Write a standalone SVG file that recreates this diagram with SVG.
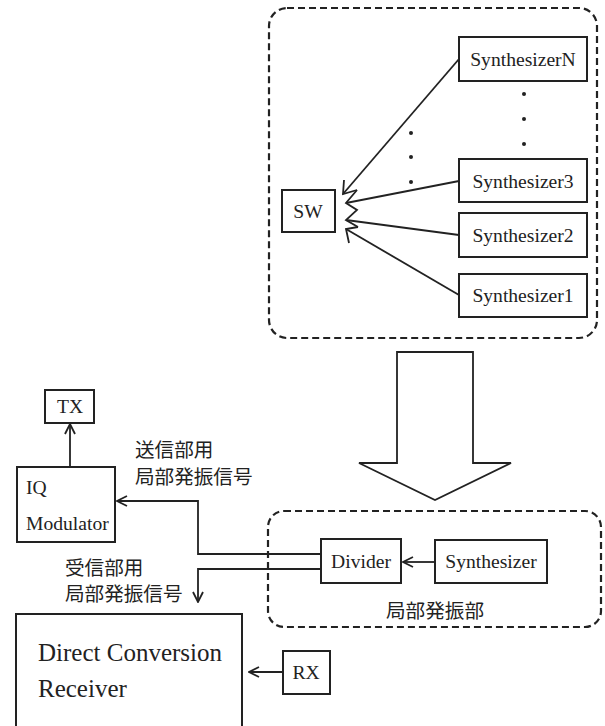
<svg xmlns="http://www.w3.org/2000/svg" width="605" height="726" viewBox="0 0 605 726">
<defs>
<style>
.box{fill:#fff;stroke:#222;stroke-width:2}
.dash{fill:none;stroke:#222;stroke-width:2.2;stroke-dasharray:7 4}
.ln{fill:none;stroke:#222;stroke-width:1.8}
.t{font-family:"Liberation Serif","Noto Sans CJK JP",serif;font-size:19.6px;fill:#222}
.c{text-anchor:middle}
.j{font-family:"Liberation Serif","Noto Sans CJK JP",sans-serif;font-size:19.6px;fill:#222}
.dot{fill:#222}
</style>
<marker id="ah" viewBox="0 0 12 12" refX="11" refY="6" markerWidth="12" markerHeight="12" markerUnits="userSpaceOnUse" orient="auto">
<path d="M1,1 L11,6 L1,11" fill="none" stroke="#222" stroke-width="1.8"/>
</marker>
</defs>
<rect width="605" height="726" fill="#fff"/>

<g id="group-top">
<rect class="dash" x="269" y="8" width="328" height="330" rx="18"/>
</g>
<g id="group-local">
<rect class="dash" x="268" y="511" width="333" height="116" rx="16"/>
<text class="j c" x="435" y="618">局部発振部</text>
</g>

<g id="connectors">
<path class="ln" d="M459,59 L343,194"/>
<path class="ln" d="M344,180 L343,194 L357,190"/>
<path class="ln" d="M357,190 L346,203 L357,210 L346,220 L358,227"/>
<path class="ln" d="M459,181 L346,203"/>
<path class="ln" d="M459,235 L346,220"/>
<path class="ln" d="M459,295 L346,229"/>
<path class="ln" d="M358,227 L346,229 L349,243"/>
<path class="ln" d="M435,562 L403,562" marker-end="url(#ah)"/>
<path class="ln" d="M321,554 L198,554 L198,501 L117,501" marker-end="url(#ah)"/>
<path class="ln" d="M321,569 L198,569 L198,602" marker-end="url(#ah)"/>
<path class="ln" d="M70,467 L70,424" marker-end="url(#ah)"/>
<path class="ln" d="M283,672 L249,672" marker-end="url(#ah)"/>
<path class="ln" d="M397,352 L473,352 L473,463 L511,463 L435,500 L359,463 L397,463 Z" stroke-width="2" stroke-linejoin="miter"/>
</g>

<g id="dots">
<circle class="dot" cx="524" cy="94" r="2"/>
<circle class="dot" cx="524" cy="119" r="2"/>
<circle class="dot" cx="524" cy="144" r="2"/>
<circle class="dot" cx="411" cy="133" r="2"/>
<circle class="dot" cx="411" cy="157" r="2"/>
<circle class="dot" cx="411" cy="182" r="2"/>
</g>

<g id="synthN"><rect class="box" x="459" y="37" width="128" height="44"/><text class="t c" x="523" y="66">SynthesizerN</text></g>
<g id="synth3"><rect class="box" x="459" y="159" width="128" height="43"/><text class="t c" x="523" y="188">Synthesizer3</text></g>
<g id="synth2"><rect class="box" x="459" y="213" width="128" height="44"/><text class="t c" x="523" y="242">Synthesizer2</text></g>
<g id="synth1"><rect class="box" x="459" y="274" width="128" height="43"/><text class="t c" x="523" y="302">Synthesizer1</text></g>
<g id="sw"><rect class="box" x="282" y="190" width="53" height="42"/><text class="t c" x="308" y="218">SW</text></g>

<g id="divider"><rect class="box" x="321" y="539" width="80" height="44"/><text class="t c" x="361" y="568">Divider</text></g>
<g id="synth"><rect class="box" x="435" y="540" width="112" height="43"/><text class="t c" x="491" y="568">Synthesizer</text></g>

<g id="tx"><rect class="box" x="45" y="390" width="49" height="33"/><text class="t c" x="70" y="413">TX</text></g>
<g id="iqmod"><rect class="box" x="17" y="467" width="98" height="75"/><text class="t" x="26" y="494">IQ</text><text class="t" x="26" y="530">Modulator</text></g>
<g id="label-tx"><text class="j" x="135" y="457">送信部用</text><text class="j" x="135" y="484">局部発振信号</text></g>
<g id="label-rx"><text class="j" x="65" y="575">受信部用</text><text class="j" x="65" y="601">局部発振信号</text></g>

<g id="receiver"><rect class="box" x="16" y="614" width="226" height="130"/><text class="t" x="38" y="661" style="font-size:25px">Direct Conversion</text><text class="t" x="38" y="697" style="font-size:25px">Receiver</text></g>
<g id="rx"><rect class="box" x="283" y="651" width="47" height="43"/><text class="t c" x="306" y="679">RX</text></g>
</svg>
